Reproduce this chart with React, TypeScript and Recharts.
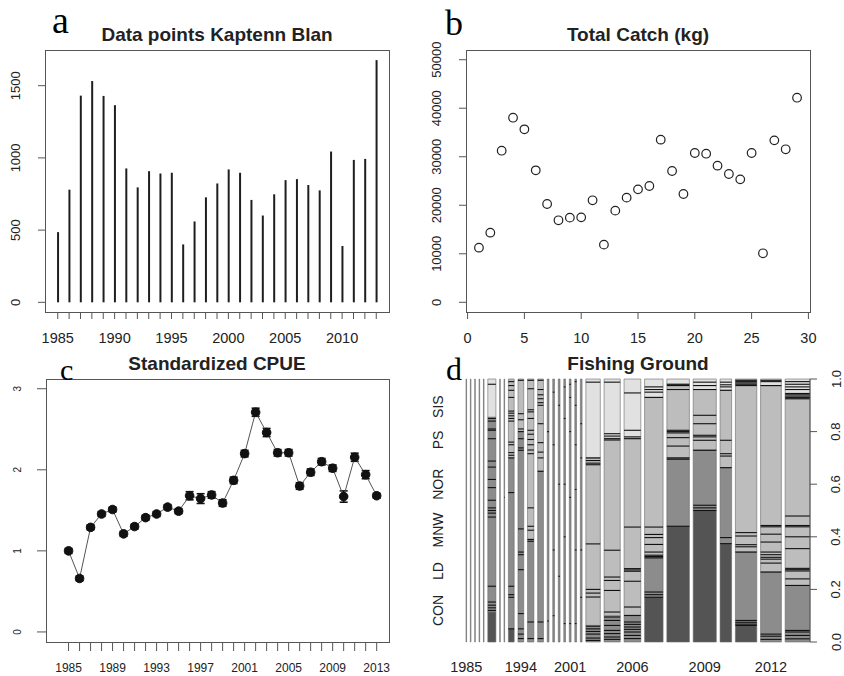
import React from 'react';
import {
  ComposedChart,
  ScatterChart,
  Bar,
  Scatter,
  Line,
  ErrorBar,
  XAxis,
  YAxis,
  ReferenceArea,
  ReferenceLine,
} from 'recharts';

// ---------- DATA ----------
const years = [
  1985, 1986, 1987, 1988, 1989, 1990, 1991, 1992, 1993, 1994, 1995, 1996, 1997, 1998, 1999,
  2000, 2001, 2002, 2003, 2004, 2005, 2006, 2007, 2008, 2009, 2010, 2011, 2012, 2013,
];
const dataPoints = [
  486, 780, 1431, 1532, 1429, 1365, 927, 796, 908, 892, 897, 401, 560, 727, 823,
  920, 897, 709, 601, 748, 846, 853, 812, 775, 1044, 390, 986, 993, 1677,
];
const catchIndex = [
  1, 2, 3, 4, 5, 6, 7, 8, 9, 10, 11, 12, 13, 14, 15, 16, 17, 18, 19, 20, 21, 22, 23, 24, 25, 26, 27, 28, 29,
];
const totalCatch = [
  11260, 14350, 31250, 38050, 35650, 27200, 20260, 16900, 17450, 17510, 21020, 11880, 18890, 21570, 23280,
  23970, 33520, 27060, 22320, 30770, 30630, 28160, 26440, 25340, 30770, 10100, 33380, 31530, 42170,
];
const cpue = [
  1.0, 0.66, 1.29, 1.455, 1.51, 1.21, 1.3, 1.41, 1.455, 1.54, 1.49, 1.68, 1.645, 1.69, 1.59,
  1.87, 2.2, 2.71, 2.46, 2.21, 2.21, 1.8, 1.97, 2.1, 2.02, 1.67, 2.155, 1.94, 1.68,
];
const cpueErr = [
  0.03, 0.03, 0.03, 0.03, 0.03, 0.03, 0.03, 0.03, 0.03, 0.03, 0.03, 0.05, 0.06, 0.04, 0.04,
  0.04, 0.04, 0.05, 0.05, 0.04, 0.04, 0.04, 0.04, 0.04, 0.04, 0.07, 0.05, 0.05, 0.03,
];

const yTicksA = [0, 500, 1000, 1500];
const xTicksB = [0, 5, 10, 15, 20, 25, 30];
const yTicksB = [0, 10000, 20000, 30000, 40000, 50000];
const yTicksC = [0, 1, 2, 3];
const yTicksD = [0, 0.2, 0.4, 0.6, 0.8, 1.0];

// Fishing ground spineplot
const groundNames = ['CON', 'LD', 'MNW', 'NOR', 'PS', 'SIS'];
const groundLabelAt = [0.12, 0.27, 0.426, 0.6, 0.768, 0.895];
const groundLabelYears = [1985, 1994, 2001, 2006, 2009, 2012];
const groundCounts = [
  1, 1, 1, 1, 1, 14, 1, 1, 10, 10, 11, 10, 3, 3, 3, 3, 3, 3, 3, 25, 28, 29, 32, 39, 40, 20, 37, 36, 43,
];
// [from, to, shade]  shade: 1 dark, 2 mid, 3 light, 4 very light
const groundBlocks: number[][][] = [
  [[0, 1, 2]],
  [[0, 1, 2]],
  [[0, 1, 2]],
  [[0, 1, 2]],
  [[0, 1, 2]],
  [[0, 0.114, 1], [0.114, 0.855, 2], [0.855, 1, 4]],
  [[0, 1, 2]],
  [[0, 1, 2]],
  [[0, 0.05, 1], [0.05, 0.7, 2], [0.7, 1, 3]],
  [[0, 0.8, 2], [0.8, 1, 3]],
  [[0, 0.39, 2], [0.39, 1, 3]],
  [[0, 0.65, 2], [0.65, 1, 3]],
  [[0, 1, 2]],
  [[0, 1, 2]],
  [[0, 1, 2]],
  [[0, 1, 2]],
  [[0, 1, 2]],
  [[0, 1, 2]],
  [[0, 1, 2]],
  [[0, 0.063, 2], [0.063, 0.7, 3], [0.7, 1, 4]],
  [[0, 0.1, 2], [0.1, 0.775, 3], [0.775, 1, 4]],
  [[0, 0.1, 2], [0.1, 0.775, 3], [0.775, 1, 4]],
  [[0, 0.17, 1], [0.17, 0.32, 2], [0.32, 0.93, 3], [0.93, 1, 4]],
  [[0, 0.44, 1], [0.44, 0.7, 2], [0.7, 0.98, 3], [0.98, 1, 4]],
  [[0, 0.5, 1], [0.5, 0.73, 2], [0.73, 0.96, 3], [0.96, 1, 4]],
  [[0, 0.374, 1], [0.374, 0.66, 2], [0.66, 0.957, 3], [0.957, 1, 4]],
  [[0, 0.063, 1], [0.063, 0.342, 2], [0.342, 1, 3]],
  [[0, 0.266, 2], [0.266, 0.975, 3], [0.975, 1, 4]],
  [[0, 0.215, 2], [0.215, 0.925, 3], [0.925, 1, 4]],
];
const groundLines: number[][] = [
  [],
  [],
  [],
  [],
  [],
  [0.98, 0.85, 0.84, 0.81, 0.805, 0.773, 0.688, 0.665, 0.618, 0.587, 0.539, 0.51, 0.5, 0.49, 0.475, 0.212, 0.152, 0.14, 0.13, 0.12],
  [],
  [0.55],
  [0.99, 0.975, 0.957, 0.93, 0.878, 0.87, 0.86, 0.85, 0.84, 0.76, 0.75, 0.72, 0.71, 0.7, 0.568, 0.212, 0.18, 0.17, 0.05],
  [0.995, 0.868, 0.845, 0.81, 0.8, 0.773, 0.738, 0.729, 0.43, 0.342, 0.332, 0.275, 0.108, 0.05, 0.03, 0.013],
  [0.995, 0.963, 0.883, 0.875, 0.85, 0.805, 0.79, 0.77, 0.75, 0.73, 0.716, 0.51, 0.44, 0.425, 0.39, 0.383, 0.076, 0.013],
  [0.995, 0.96, 0.94, 0.925, 0.91, 0.9, 0.83, 0.758, 0.722, 0.7, 0.649, 0.076, 0.013],
  [0.8, 0.08],
  [0.95, 0.75, 0.35, 0.1],
  [0.9, 0.6, 0.25],
  [0.97, 0.85, 0.6, 0.4, 0.07],
  [0.98, 0.93, 0.8, 0.55, 0.07],
  [0.99, 0.9, 0.75, 0.58, 0.35, 0.07],
  [0.83, 0.7, 0.35, 0.17],
  [0.988, 0.7, 0.69, 0.68, 0.674, 0.373, 0.2, 0.186, 0.171, 0.06, 0.05, 0.04, 0.03, 0.015, 0.006],
  [0.988, 0.792, 0.783, 0.773, 0.768, 0.349, 0.247, 0.234, 0.196, 0.114, 0.095, 0.082, 0.063, 0.044, 0.032, 0.019, 0.01],
  [0.947, 0.805, 0.78, 0.773, 0.437, 0.279, 0.274, 0.269, 0.231, 0.133, 0.101, 0.076, 0.067, 0.057, 0.048, 0.038, 0.025, 0.013],
  [0.97, 0.96, 0.95, 0.93, 0.437, 0.409, 0.397, 0.371, 0.342, 0.33, 0.325, 0.32, 0.19, 0.18, 0.17],
  [0.98, 0.975, 0.96, 0.805, 0.8, 0.795, 0.777, 0.745, 0.7, 0.695, 0.44],
  [0.988, 0.975, 0.96, 0.862, 0.83, 0.786, 0.78, 0.767, 0.729, 0.52, 0.51, 0.5],
  [0.988, 0.978, 0.97, 0.957, 0.767, 0.716, 0.707, 0.663, 0.397, 0.374],
  [0.995, 0.99, 0.985, 0.98, 0.975, 0.416, 0.403, 0.37, 0.362, 0.342, 0.082, 0.075, 0.068, 0.063],
  [0.995, 0.99, 0.975, 0.443, 0.438, 0.41, 0.38, 0.342, 0.332, 0.322, 0.315, 0.3, 0.266, 0.03, 0.022, 0.01],
  [0.99, 0.98, 0.97, 0.96, 0.945, 0.94, 0.935, 0.93, 0.925, 0.479, 0.443, 0.438, 0.4, 0.355, 0.28, 0.275, 0.27, 0.24, 0.215, 0.044, 0.038, 0.025, 0.012],
];

// ---------- STYLE ----------
const FONT = "'Liberation Sans', Arial, Helvetica, sans-serif";
const SERIF = "'Liberation Serif', 'DejaVu Serif', serif";
const TXT = '#222';
const AX = '#555';
const SHADES = ['#111', '#545454', '#8c8c8c', '#bdbdbd', '#e1e1e1'];
const GAP = 6.55;

// ---------- derived tables ----------
const aData = years.map((y, i) => ({ year: y, value: dataPoints[i] }));
const bData = catchIndex.map((x, i) => ({ x, y: totalCatch[i] }));
const cData = years.map((y, i) => ({ year: y, cpue: cpue[i], err: cpueErr[i] }));

const groundStarts: number[] = [];
{
  let acc = 0;
  groundCounts.forEach((c, i) => {
    groundStarts.push(acc + i * GAP);
    acc += c;
  });
}
const groundTotal =
  groundCounts.reduce((s, c) => s + c, 0) + (groundCounts.length - 1) * GAP;
const groundCenters = groundCounts.map((c, i) => groundStarts[i] + c / 2);
const groundTickPos = groundLabelYears.map((y) => groundCenters[years.indexOf(y)]);
const dData = groundCenters.map((c, i) => ({ x: c, year: years[i] }));

// ---------- tick renderers ----------
const rotTick = (cx: number, size: number, fmt?: (v: any) => string) => (p: any) => {
  const v = p.payload.value;
  return (
    <text
      x={cx}
      y={p.y}
      transform={`rotate(-90, ${cx}, ${p.y})`}
      textAnchor="middle"
      dominantBaseline="central"
      fontFamily={FONT}
      fontSize={size}
      fill={TXT}
    >
      {fmt ? fmt(v) : String(v)}
    </text>
  );
};

const hTick = (yy: number, size: number, show: (v: number) => boolean, fmt?: (v: number) => string) => (p: any) => {
  const v = p.payload.value;
  if (!show(v)) return <g />;
  return (
    <text
      x={p.x}
      y={yy}
      textAnchor="middle"
      dominantBaseline="central"
      fontFamily={FONT}
      fontSize={size}
      fill={TXT}
    >
      {fmt ? fmt(v) : String(v)}
    </text>
  );
};

const Box = ({ left, top, width, height }: { left: number; top: number; width: number; height: number }) => (
  <div
    style={{
      position: 'absolute',
      left,
      top,
      width,
      height,
      border: `1px solid ${AX}`,
      boxSizing: 'border-box',
      pointerEvents: 'none',
    }}
  />
);

// ---------- panels ----------
const PanelA = () => (
  <div style={{ position: 'absolute', left: 0, top: 0 }}>
    <ComposedChart width={420} height={350} data={aData} margin={{ top: 50, right: 31, bottom: 0, left: 0 }}>
      <XAxis
        dataKey="year"
        type="number"
        domain={[1983.88, 2014.12]}
        allowDataOverflow
        ticks={years}
        interval={0}
        height={38}
        axisLine={false}
        tickSize={7}
        tickLine={{ stroke: AX }}
        tick={hTick(338, 14.5, (v) => v % 5 === 0)}
      />
      <YAxis
        type="number"
        domain={[-67, 1747]}
        allowDataOverflow
        ticks={yTicksA}
        interval={0}
        width={45}
        axisLine={false}
        tickSize={7}
        tickLine={{ stroke: AX }}
        tick={rotTick(16, 13)}
      />
      <Bar dataKey="value" barSize={2} fill="#1e1e1e" isAnimationActive={false} />
    </ComposedChart>
    <Box left={45} top={50} width={345} height={263} />
  </div>
);

const PanelB = () => (
  <div style={{ position: 'absolute', left: 420, top: 0 }}>
    <ScatterChart width={424} height={350} margin={{ top: 50, right: 34, bottom: 0, left: 0 }}>
      <XAxis
        dataKey="x"
        type="number"
        domain={[-0.14, 30.14]}
        allowDataOverflow
        ticks={xTicksB}
        interval={0}
        height={38}
        axisLine={false}
        tickSize={7}
        tickLine={{ stroke: AX }}
        tick={hTick(338, 14.5, () => true)}
      />
      <YAxis
        dataKey="y"
        type="number"
        domain={[-2000, 52000]}
        allowDataOverflow
        ticks={yTicksB}
        interval={0}
        width={46}
        axisLine={false}
        tickSize={7}
        tickLine={{ stroke: AX }}
        tick={rotTick(17, 13)}
      />
      <Scatter
        data={bData}
        isAnimationActive={false}
        shape={(p: any) => (
          <circle cx={p.cx} cy={p.cy} r={4.3} fill="none" stroke="#222" strokeWidth={1.2} />
        )}
      />
    </ScatterChart>
    <Box left={46} top={50} width={345} height={263} />
  </div>
);

const PanelC = () => (
  <div style={{ position: 'absolute', left: 0, top: 330 }}>
    <ComposedChart width={420} height={350} data={cData} margin={{ top: 49, right: 31, bottom: 0, left: 0 }}>
      <XAxis
        dataKey="year"
        type="number"
        domain={[1982.95, 2014.12]}
        allowDataOverflow
        ticks={years}
        interval={0}
        height={38}
        axisLine={false}
        tickSize={9}
        tickLine={{ stroke: AX }}
        tick={hTick(338, 12, (v) => (v - 1985) % 4 === 0)}
      />
      <YAxis
        type="number"
        domain={[-0.124, 3.12]}
        allowDataOverflow
        ticks={yTicksC}
        interval={0}
        width={46}
        axisLine={false}
        tickSize={9}
        tickLine={{ stroke: AX }}
        tick={rotTick(18, 10)}
      />
      <Line
        dataKey="cpue"
        stroke="#555"
        strokeWidth={1}
        isAnimationActive={false}
        dot={(p: any) => <circle key={`d${p.index}`} cx={p.cx} cy={p.cy} r={4.3} fill="#111" stroke="#111" />}
        activeDot={false}
      >
        <ErrorBar dataKey="err" width={4} stroke="#111" strokeWidth={1.6} direction="y" isAnimationActive={false} />
      </Line>
    </ComposedChart>
    <Box left={46} top={49} width={344} height={264} />
  </div>
);

const PanelD = () => (
  <div style={{ position: 'absolute', left: 420, top: 330 }}>
    <ComposedChart width={424} height={350} data={dData} margin={{ top: 49, right: 0, bottom: 0, left: 0 }}>
      <XAxis
        dataKey="x"
        type="number"
        domain={[0, groundTotal]}
        allowDataOverflow
        ticks={groundTickPos}
        interval={0}
        height={38}
        axisLine={false}
        tickLine={false}
        tick={hTick(337, 14.5, () => true, (v) => String(groundLabelYears[groundTickPos.indexOf(v)]))}
      />
      <YAxis
        yAxisId="left"
        type="number"
        domain={[0, 1]}
        allowDataOverflow
        ticks={groundLabelAt}
        interval={0}
        width={46}
        axisLine={false}
        tickLine={false}
        tick={rotTick(18, 14, (v) => groundNames[groundLabelAt.indexOf(v)])}
      />
      <YAxis
        yAxisId="right"
        orientation="right"
        type="number"
        domain={[0, 1]}
        allowDataOverflow
        ticks={yTicksD}
        interval={0}
        width={34}
        axisLine={{ stroke: AX }}
        tickSize={7}
        tickLine={{ stroke: AX }}
        tick={rotTick(416, 13, (v) => Number(v).toFixed(1))}
      />
      {groundBlocks.map((blocks, i) =>
        blocks.map((b, j) => (
          <ReferenceArea
            key={`b${i}-${j}`}
            yAxisId="right"
            x1={groundStarts[i]}
            x2={groundStarts[i] + groundCounts[i]}
            y1={b[0]}
            y2={b[1]}
            fill={SHADES[b[2]]}
            fillOpacity={1}
            stroke="#6a6a6a"
            strokeWidth={0.6}
            ifOverflow="visible"
          />
        ))
      )}
      {groundLines.map((lines, i) =>
        lines.map((v, j) => (
          <ReferenceLine
            key={`l${i}-${j}`}
            yAxisId="right"
            segment={[
              { x: groundStarts[i], y: v },
              { x: groundStarts[i] + groundCounts[i], y: v },
            ]}
            stroke="#111"
            strokeWidth={1.1}
            ifOverflow="visible"
          />
        ))
      )}
    </ComposedChart>
  </div>
);

const Overlay = () => (
  <svg width={844} height={676} style={{ position: 'absolute', left: 0, top: 0, pointerEvents: 'none' }}>
    <g fontFamily={FONT} fontWeight="bold" fontSize={19} fill={TXT} textAnchor="middle">
      <text x={217} y={41}>Data points Kaptenn Blan</text>
      <text x={638} y={41}>Total Catch (kg)</text>
      <text x={217} y={370}>Standardized CPUE</text>
      <text x={638} y={370}>Fishing Ground</text>
    </g>
    <g fontFamily={SERIF} fill="#000">
      <text x={52} y={33} fontSize={38}>a</text>
      <text x={445} y={35} fontSize={36}>b</text>
      <text x={60} y={380} fontSize={30}>c</text>
      <text x={446} y={380} fontSize={32}>d</text>
    </g>
  </svg>
);

export default function App() {
  return (
    <div style={{ position: 'absolute', left: 0, top: 0, width: 844, height: 676, background: '#fff', overflow: 'hidden' }}>
      <PanelA />
      <PanelB />
      <PanelC />
      <PanelD />
      <Overlay />
    </div>
  );
}
